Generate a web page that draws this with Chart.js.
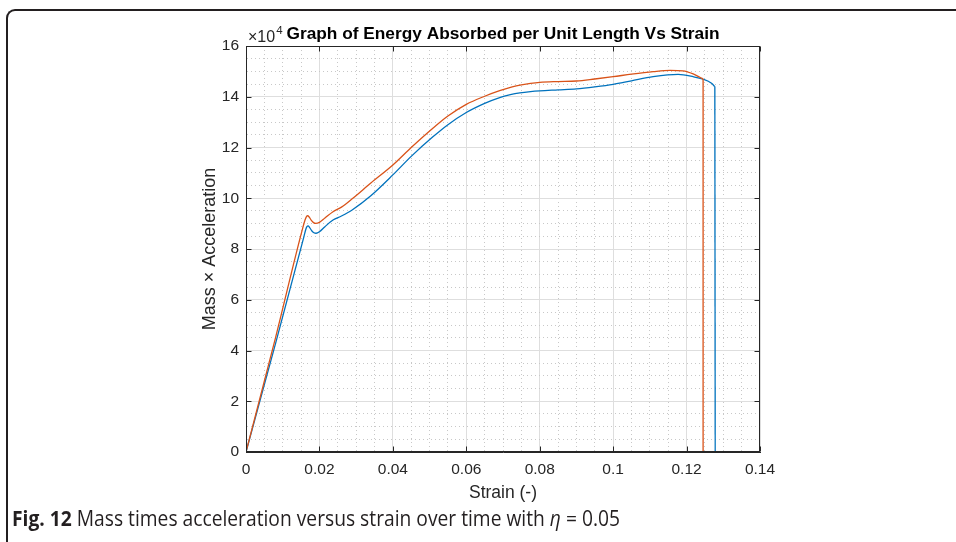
<!DOCTYPE html>
<html><head><meta charset="utf-8">
<script src="https://cdn.jsdelivr.net/npm/chart.js@4.4.1/dist/chart.umd.min.js"></script>
<style>
html,body{margin:0;padding:0;background:#fff;overflow:hidden}
#wrap{position:relative;width:956px;height:542px;overflow:hidden}
#c{position:absolute;left:0;top:0}
#frame{position:absolute;left:6px;top:9px;width:1000px;height:600px;border-left:2px solid #231f20;border-top:2px solid #231f20;border-top-left-radius:9px;box-sizing:border-box}
#cap{position:absolute;left:12px;top:508px;font-family:'Liberation Sans Narrow','Open Sans',sans-serif;font-size:21px;color:#231f20;white-space:nowrap;transform-origin:0 0;line-height:1}
</style></head><body>
<div id="wrap"><div id="frame"></div><canvas id="c" width="956" height="542"></canvas>
<div id="cap"><b>Fig. 12</b> Mass times acceleration versus strain over time with <i>η</i> = 0.05</div></div>
<script>
// ---- data ----
const strainRed = [0, 0.0080, 0.0155, 0.0161, 0.0165, 0.0168, 0.0172, 0.0178, 0.0184, 0.0190, 0.0200, 0.0215, 0.0237, 0.0260, 0.0291, 0.0340, 0.0400, 0.0450, 0.0509, 0.0550, 0.0600, 0.0650, 0.0691, 0.0725, 0.0750, 0.0775, 0.0800, 0.0850, 0.0900, 0.0950, 0.1000, 0.1050, 0.1109, 0.1155, 0.1190, 0.1218, 0.1236, 0.1245, 0.1245];
const forceRed  = [0, 44800, 88500, 91500, 92900, 93100, 92600, 91300, 90400, 90100, 90500, 92200, 94700, 96500, 100000, 106000, 113100, 120000, 127600, 132400, 137000, 140200, 142400, 143900, 144700, 145300, 145700, 146000, 146200, 147000, 147900, 148900, 149900, 150400, 150200, 149000, 147700, 147000, 0];
const strainBlue = [0, 0.0080, 0.0158, 0.0163, 0.0166, 0.0169, 0.0173, 0.0179, 0.0185, 0.0191, 0.0200, 0.0215, 0.0237, 0.0260, 0.0291, 0.0340, 0.0400, 0.0450, 0.0509, 0.0550, 0.0600, 0.0650, 0.0691, 0.0720, 0.0746, 0.0775, 0.0800, 0.0850, 0.0900, 0.0950, 0.1000, 0.1050, 0.1109, 0.1177, 0.1218, 0.1245, 0.1268, 0.1277, 0.1278];
const forceBlue  = [0, 42500, 85000, 87800, 88800, 89100, 88500, 87200, 86400, 86200, 86800, 88800, 91400, 93000, 95600, 101000, 109200, 116500, 124200, 129000, 133800, 137400, 139700, 140800, 141500, 142000, 142300, 142700, 143100, 143900, 144900, 146300, 147900, 148800, 147900, 146900, 145300, 144000, 0];
const xMajorTicks = [0, 0.02, 0.04, 0.06, 0.08, 0.1, 0.12, 0.14];
const yMajorTicks = [0, 20000, 40000, 60000, 80000, 100000, 120000, 140000, 160000];
const yTickLabels = ['0', '2', '4', '6', '8', '10', '12', '14', '16'];
const chartTitle = 'Graph of Energy Absorbed per Unit Length Vs Strain';
const xAxisTitle = 'Strain (-)';
const yAxisTitle = 'Mass \u00d7 Acceleration';
const yExponent = '4';

const red = '#D95319', blue = '#0072BD', axisCol = '#262626';
const FONT = '"Liberation Sans", Arial, Helvetica, sans-serif';
const toPts = (xs, ys) => xs.map((v, i) => ({x: v, y: ys[i]}));
const curve = (xs, ys) => toPts(xs.slice(0, -1), ys.slice(0, -1));
const drop = (xs, ys) => toPts(xs.slice(-2), ys.slice(-2));
const isMajor = (v, step) => Math.abs(v / step - Math.round(v / step)) < 1e-6;

const boxPlugin = {
  id: 'box',
  afterDraw(chart) {
    const {ctx, chartArea: a, scales: {x, y}} = chart;
    ctx.save();
    ctx.strokeStyle = axisCol; ctx.lineWidth = 1;
    const L = Math.round(a.left) + 0.5, R = Math.round(a.right) - 0.5, T = Math.round(a.top) + 0.5, B = Math.round(a.bottom) - 0.5;
    ctx.strokeRect(L, T, R - L, B - T);
    ctx.beginPath();
    xMajorTicks.forEach(v => {
      const p = Math.round(x.getPixelForValue(v)) + 0.5;
      ctx.moveTo(p, B); ctx.lineTo(p, B - 5);
      ctx.moveTo(p, T); ctx.lineTo(p, T + 5);
    });
    yMajorTicks.forEach(v => {
      const p = Math.round(y.getPixelForValue(v)) + 0.5;
      ctx.moveTo(L, p); ctx.lineTo(L + 5, p);
      ctx.moveTo(R, p); ctx.lineTo(R - 5, p);
    });
    ctx.stroke();
    // title
    ctx.fillStyle = '#000';
    ctx.font = 'bold 17.3px ' + FONT;
    ctx.textAlign = 'center'; ctx.textBaseline = 'alphabetic';
    ctx.fillText(chartTitle, (a.left + a.right) / 2, 39);
    // exponent
    ctx.fillStyle = axisCol;
    ctx.textAlign = 'left';
    ctx.font = '16px ' + FONT;
    ctx.fillText('\u00d710', a.left + 2, 42);
    const w = ctx.measureText('\u00d710').width;
    ctx.font = '11.5px ' + FONT;
    ctx.fillText(yExponent, a.left + 3 + w, 34);
    ctx.restore();
  }
};

const gridColor = ctx => {
  if (!ctx.tick) return 'rgba(0,0,0,0)';
  const step = ctx.scale.axis === 'x' ? 0.02 : 20000;
  return isMajor(ctx.tick.value, step) ? '#dedede' : '#c8c8c8';
};
const gridDash = ctx => {
  if (!ctx.tick) return [];
  const step = ctx.scale.axis === 'x' ? 0.02 : 20000;
  return isMajor(ctx.tick.value, step) ? [] : [1, 3];
};

const lineDs = (pts, col, mono) => ({data: pts, borderColor: col, backgroundColor: col, showLine: true, pointRadius: 0, borderWidth: 1.3, tension: 0, cubicInterpolationMode: mono ? 'monotone' : 'default'});

new Chart(document.getElementById('c'), {
  type: 'scatter',
  data: {
    datasets: [
      lineDs(curve(strainRed, forceRed), red, true),
      lineDs(drop(strainRed, forceRed), red, false),
      lineDs(curve(strainBlue, forceBlue), blue, true),
      lineDs(drop(strainBlue, forceBlue), blue, false)
    ]
  },
  options: {
    responsive: false, animation: false, devicePixelRatio: 1,
    layout: {padding: {left: 199, right: 196, top: 46, bottom: 0}},
    plugins: {legend: {display: false}, tooltip: {enabled: false}, title: {display: false}},
    scales: {
      x: {
        type: 'linear', min: 0, max: 0.14,
        afterFit: s => { s.height = 90; },
        ticks: {stepSize: 0.005, autoSkip: false, maxRotation: 0, padding: 8, color: axisCol,
          font: {family: FONT, size: 15.5},
          callback: v => { const i = xMajorTicks.findIndex(t => Math.abs(t - v) < 1e-9); return i >= 0 ? String(xMajorTicks[i]) : ''; }},
        grid: {color: gridColor, lineWidth: 1, drawTicks: false},
        border: {display: true, color: axisCol, dash: gridDash},
        title: {display: true, text: xAxisTitle, color: axisCol, font: {family: FONT, size: 17.5}, padding: {top: 0, bottom: 38}}
      },
      y: {
        type: 'linear', min: 0, max: 160000,
        afterFit: s => { s.width = 47; },
        ticks: {stepSize: 5000, autoSkip: false, padding: 7, color: axisCol,
          font: {family: FONT, size: 15.5},
          callback: v => { const i = yMajorTicks.indexOf(v); return i >= 0 ? yTickLabels[i] : ''; }},
        grid: {color: gridColor, lineWidth: 1, drawTicks: false},
        border: {display: true, color: axisCol, dash: gridDash},
        title: {display: true, text: yAxisTitle, color: axisCol, font: {family: FONT, size: 18}, padding: {top: 0, bottom: 0}}
      }
    }
  },
  plugins: [boxPlugin]
});

// fit caption to reference width
const cap = document.getElementById('cap');
const cw = cap.getBoundingClientRect().width;
cap.style.transform = 'scaleX(' + (608 / cw) + ')';
</script>
</body></html>
